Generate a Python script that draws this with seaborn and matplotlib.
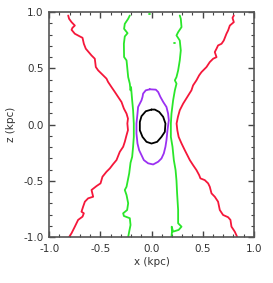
import seaborn as sns
import matplotlib.pyplot as plt
from matplotlib.ticker import MultipleLocator

sns.set_style("ticks")
plt.rcParams["font.family"] = ["DejaVu Sans"]

# contour levels (x, z in kpc)
red_left_x = [-0.814, -0.805, -0.781, -0.749, -0.772, -0.781, -0.749, -0.700, -0.674, -0.661, -0.642,
              -0.586, -0.554, -0.544, -0.521, -0.472, -0.440, -0.424, -0.391, -0.358, -0.326, -0.293,
              -0.270, -0.244, -0.230, -0.236, -0.230, -0.244, -0.261, -0.277, -0.310, -0.342, -0.375,
              -0.407, -0.440, -0.479, -0.498, -0.537, -0.586, -0.570, -0.619, -0.651, -0.668, -0.684,
              -0.661, -0.674, -0.717, -0.749, -0.781, -0.805]
red_left_z = [0.969, 0.940, 0.910, 0.880, 0.860, 0.842, 0.807, 0.783, 0.771, 0.718, 0.674,
              0.614, 0.585, 0.511, 0.481, 0.437, 0.408, 0.378, 0.333, 0.289, 0.245, 0.200,
              0.142, 0.097, 0.053, 0.009, -0.050, -0.095, -0.154, -0.198, -0.243, -0.316, -0.352,
              -0.390, -0.420, -0.464, -0.523, -0.547, -0.582, -0.642, -0.656, -0.686, -0.730, -0.775,
              -0.789, -0.819, -0.848, -0.908, -0.966, -1.000]

red_right_x = [0.804, 0.791, 0.804, 0.765, 0.748, 0.732, 0.706, 0.684, 0.650, 0.635, 0.618,
               0.635, 0.602, 0.569, 0.537, 0.488, 0.465, 0.439, 0.406, 0.390, 0.370, 0.309,
               0.276, 0.258, 0.245, 0.252, 0.265, 0.293, 0.325, 0.358, 0.374, 0.406, 0.439,
               0.465, 0.478, 0.520, 0.553, 0.569, 0.586, 0.618, 0.650, 0.667, 0.699, 0.748,
               0.771, 0.781, 0.813, 0.836]
red_right_z = [0.969, 0.948, 0.910, 0.880, 0.836, 0.807, 0.747, 0.718, 0.703, 0.674, 0.644,
               0.599, 0.585, 0.555, 0.511, 0.466, 0.437, 0.393, 0.348, 0.304, 0.275, 0.186,
               0.127, 0.068, 0.009, -0.050, -0.110, -0.168, -0.228, -0.287, -0.316, -0.361, -0.405,
               -0.449, -0.479, -0.494, -0.523, -0.553, -0.612, -0.642, -0.686, -0.760, -0.804, -0.824,
               -0.848, -0.908, -0.952, -0.997]

green_left_x = [-0.212, -0.228, -0.261, -0.268, -0.234, -0.261, -0.270, -0.268, -0.244, -0.228,
                -0.212, -0.205, -0.200, -0.189, -0.180, -0.173, -0.173, -0.180, -0.189, -0.205,
                -0.218, -0.244, -0.261, -0.244, -0.228, -0.238, -0.277, -0.270, -0.212, -0.205,
                -0.218, -0.228]
green_left_z = [0.969, 0.940, 0.895, 0.851, 0.812, 0.783, 0.718, 0.600, 0.570, 0.422,
                0.363, 0.304, 0.333, 0.215, 0.127, 0.009, -0.110, -0.198, -0.287, -0.340,
                -0.434, -0.553, -0.582, -0.627, -0.700, -0.760, -0.789, -0.813, -0.833, -0.893,
                -0.952, -1.000]

green_right_x = [0.276, 0.286, 0.293, 0.260, 0.244, 0.276, 0.286, 0.276, 0.260, 0.244,
                 0.228, 0.244, 0.228, 0.211, 0.195, 0.189, 0.189, 0.205, 0.218, 0.235,
                 0.244, 0.250, 0.260, 0.260, 0.293, 0.265, 0.211, 0.197, 0.200, 0.195]
green_right_z = [0.969, 0.940, 0.866, 0.821, 0.792, 0.747, 0.659, 0.570, 0.481, 0.422,
                 0.393, 0.363, 0.304, 0.215, 0.097, 0.009, -0.110, -0.198, -0.316, -0.405,
                 -0.500, -0.612, -0.760, -0.878, -0.908, -0.937, -0.952, -0.908, -0.950, -1.000]

green_dot_x = [0.224, 0.232]
green_dot_z = [0.723, 0.723]
green_top_x = [-0.021, -0.013]
green_top_z = [0.985, 0.985]

purple_x = [-0.017, 0.042, 0.065, 0.087, 0.114, 0.146, 0.162, 0.169, 0.156, 0.146, 0.136,
            0.120, 0.097, 0.065, 0.016, -0.033, -0.075, -0.098, -0.121, -0.137, -0.147,
            -0.147, -0.137, -0.131, -0.098, -0.088, -0.082, -0.056, -0.017]
purple_z = [0.313, 0.310, 0.289, 0.245, 0.201, 0.156, 0.097, 0.038, -0.051, -0.139, -0.198,
            -0.257, -0.302, -0.331, -0.355, -0.345, -0.316, -0.272, -0.228, -0.169, -0.080,
            0.009, 0.097, 0.156, 0.215, 0.245, 0.275, 0.304, 0.313]

black_x = [0.000, 0.032, 0.075, 0.114, 0.136, 0.130, 0.097, 0.055, 0.000, -0.049, -0.088,
           -0.114, -0.114, -0.098, -0.056, 0.000]
black_z = [0.133, 0.133, 0.112, 0.068, 0.009, -0.065, -0.110, -0.154, -0.169, -0.154, -0.110,
           -0.051, 0.023, 0.074, 0.118, 0.133]

red = "#f5173a"
green = "#2ae62a"
purple = "#9b30f2"

fig = plt.figure(figsize=(2.73, 2.83), dpi=100)
ax = fig.add_axes([0.180, 0.1625, 0.750, 0.795])

curves = [
    (red_left_x, red_left_z, red),
    (red_right_x, red_right_z, red),
    (green_left_x, green_left_z, green),
    (green_right_x, green_right_z, green),
    (green_dot_x, green_dot_z, green),
    (green_top_x, green_top_z, green),
    (purple_x, purple_z, purple),
    (black_x, black_z, "black"),
]
for xs, zs, c in curves:
    sns.lineplot(x=xs, y=zs, ax=ax, sort=False, estimator=None, color=c, lw=1.3)

ax.set_xlim(-1, 1)
ax.set_ylim(-1, 1)
ax.xaxis.set_major_locator(MultipleLocator(0.5))
ax.yaxis.set_major_locator(MultipleLocator(0.5))
ax.xaxis.set_minor_locator(MultipleLocator(0.1))
ax.yaxis.set_minor_locator(MultipleLocator(0.1))
ax.xaxis.set_major_formatter(plt.FormatStrFormatter("%.1f"))
ax.yaxis.set_major_formatter(plt.FormatStrFormatter("%.1f"))
ax.tick_params(which="both", direction="in", top=True, right=True, color="#444444",
               labelsize=7.5, labelcolor="#333333")
ax.tick_params(axis="x", pad=5)
ax.tick_params(axis="y", pad=4)
ax.tick_params(which="major", length=4.5, width=1.0)
ax.tick_params(which="minor", length=2.5, width=0.8)
for s in ax.spines.values():
    s.set_color("#555555")
    s.set_linewidth(1.2)

ax.set_xlabel("x (kpc)", fontsize=7.5, color="#333333", labelpad=2)
ax.set_ylabel("z (kpc)", fontsize=7.5, color="#333333", labelpad=5)

fig.savefig("out.png", dpi=100)
